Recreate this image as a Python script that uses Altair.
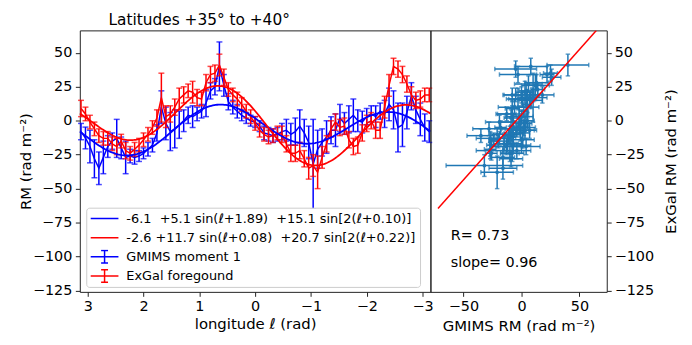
import numpy as np
import pandas as pd
import altair as alt

PI = 3.14159265

# longitude bins (rad)
longitude = [3.12, 3.04, 2.96, 2.88, 2.80, 2.72, 2.64, 2.56, 2.48, 2.40,
             2.32, 2.24, 2.16, 2.08, 2.00, 1.92, 1.84, 1.76, 1.68, 1.60,
             1.52, 1.44, 1.36, 1.28, 1.20, 1.12, 1.04, 0.96, 0.88, 0.80,
             0.72, 0.64, 0.56, 0.48, 0.40, 0.32, 0.24, 0.16, 0.08, 0.00,
             -0.08, -0.16, -0.24, -0.32, -0.40, -0.48, -0.56, -0.64, -0.72, -0.80,
             -0.88, -0.96, -1.04, -1.12, -1.20, -1.28, -1.36, -1.44, -1.52, -1.60,
             -1.68, -1.76, -1.84, -1.92, -2.00, -2.08, -2.16, -2.24, -2.32, -2.40,
             -2.48, -2.56, -2.64, -2.72, -2.80, -2.88, -2.96, -3.04, -3.12]

# GMIMS moment 1 RM and error
gmims = [-8, -12.7, -19, -28, -35, -27, -19, -15, -13, -20,
         -27, -26, -27, -26, -24, -21, -18, -9, 10, -2,
         -8, -6, -3, 0, 4, 3, 5, 7, 13, 22,
         25, 40, 26, 14, 10, 7, 4, 2, 0, -1,
         -4, -9, -10, -11, -10, -8, -7, -10, -8, -4,
         -9, -16, -32, -21, -16, -12, -7, -7, 2, -2,
         1, 4, 0, -1, 3, 5, 3, 7, 5, 12,
         8, -5, -3, 6, 18, 8, 1, -5, -8]
gmims_err = [6, 8, 12, 14, 12, 12, 8, 6, 14, 8,
             12, 5, 5, 4, 4, 5, 5, 6, 12, 12,
             14, 14, 10, 8, 6, 8, 5, 5, 10, 6,
             6, 18, 8, 6, 5, 5, 4, 4, 4, 4,
             4, 5, 5, 5, 5, 6, 8, 8, 10, 12,
             10, 12, 33, 14, 10, 12, 10, 12, 10, 8,
             10, 12, 8, 8, 6, 6, 8, 6, 10, 12,
             14, 18, 16, 12, 10, 10, 12, 10, 8]

# ExGal foreground RM and error
exgal = [9, 5, -1, -6, -11, -13, -13, -17, -19, -15,
         -22, -24, -21, -18, -14, -10, -5, 2, 17, 3,
         5, 10, 16, 19, 22, 21, 17, 16, 28, 34,
         35, 41, 32, 23, 19, 16, 12, 7, 3, -2,
         -7, -10, -12, -11, -9, -10, -17, -24, -24, -22,
         -28, -35, -33, -38, -27, -17, -6, -1, -5, -4,
         -14, -19, -18, -9, -2, 0, -7, -7, 10, 26,
         40, 38, 34, 27, 19, 15, 16, 19, 19]
exgal_err = [6, 5, 5, 5, 5, 5, 5, 5, 6, 5,
             6, 5, 5, 5, 5, 5, 5, 6, 18, 8,
             6, 6, 8, 6, 5, 8, 6, 5, 6, 6,
             6, 8, 6, 5, 5, 5, 5, 5, 5, 5,
             5, 5, 5, 5, 5, 6, 6, 6, 6, 6,
             6, 8, 8, 12, 8, 6, 6, 6, 6, 6,
             6, 6, 6, 6, 6, 6, 6, 6, 8, 8,
             6, 6, 6, 6, 6, 6, 6, 5, 5]

# fit coefficients: a + b sin(l + c) + d sin[2(l + e)]
gmims_fit = [-6.1, 5.1, 1.89, 15.1, 0.10]
exgal_fit = [-2.6, 11.7, 0.08, 20.7, 0.22]

legend_labels = ["-6.1\u00a0 +5.1 sin(\u2113+1.89)\u00a0 +15.1 sin[2(\u2113+0.10)]",
                 "-2.6 +11.7 sin(\u2113+0.08)\u00a0 +20.7 sin[2(\u2113+0.22)]",
                 "GMIMS moment 1",
                 "ExGal foregound"]

title_text = "Latitudes +35\u00b0 to +40\u00b0"
corr_r = 0.73
slope = 0.96
intercept = 4.5
line_x = [-72, 64.5]

BLUE = "#0000ff"
RED = "#ff0000"
C0 = "#1f77b4"
FONT = "DejaVu Sans"

df = pd.DataFrame({"l": longitude, "gm": gmims, "gm_err": gmims_err,
                   "ex": exgal, "ex_err": exgal_err})
df["gm_lo"] = df.gm - df.gm_err
df["gm_hi"] = df.gm + df.gm_err
df["ex_lo"] = df.ex - df.ex_err
df["ex_hi"] = df.ex + df.ex_err


def fit(c, l):
    return c[0] + c[1] * np.sin(l + c[2]) + c[3] * np.sin(2 * (l + c[4]))


fit_l = np.linspace(-PI, PI, 241)
dfit = pd.DataFrame({"l": fit_l, "gfit": fit(gmims_fit, fit_l), "efit": fit(exgal_fit, fit_l)})

YDOM = [-126, 66.5]
yticks = [-125, -100, -75, -50, -25, 0, 25, 50]

xl_axis = alt.Axis(values=[-3, -2, -1, 0, 1, 2, 3], title="longitude  \u2113 (rad)",
                   titleY=32, titleBaseline="middle")
yl_axis = alt.Axis(values=yticks, title="RM (rad m\u207b\u00b2)", titleX=-55,
                   titleBaseline="middle", titleAngle=270)


def XL(f):
    return alt.X(f, type="quantitative",
                 scale=alt.Scale(domain=[-PI, PI], reverse=True, nice=False, zero=False),
                 axis=xl_axis)


def YL(f):
    return alt.Y(f, type="quantitative",
                 scale=alt.Scale(domain=YDOM, nice=False, zero=False), axis=yl_axis)


base = alt.Chart(df)
layers = []
for col, color in [("gm", BLUE), ("ex", RED)]:
    layers.append(base.mark_rule(color=color, strokeWidth=1.5).encode(
        x=XL("l"), y=YL(col + "_lo"), y2=alt.Y2(col + "_hi")))
    for side in ["_lo", "_hi"]:
        layers.append(base.mark_tick(color=color, orient="horizontal", size=6, thickness=1.5).encode(
            x=XL("l"), y=YL(col + side)))
    layers.append(base.mark_line(color=color, strokeWidth=1.5).encode(x=XL("l"), y=YL(col)))

layers.append(alt.Chart(dfit).mark_line(color=BLUE, strokeWidth=1.8).encode(x=XL("l"), y=YL("gfit")))
layers.append(alt.Chart(dfit).mark_line(color=RED, strokeWidth=1.8).encode(x=XL("l"), y=YL("efit")))

path_line = "M-1,0L1,0"
path_err = "M-1,0L1,0M0,-0.45L0,0.45M-0.25,-0.45L0.25,-0.45M-0.25,0.45L0.25,0.45"
leg = alt.Legend(orient="none", legendX=6.5, legendY=179, title=None,
                 symbolSize=784, symbolStrokeWidth=1.5, symbolOpacity=1,
                 clipHeight=15, rowPadding=4.3, labelOffset=7, padding=3.5,
                 labelFontSize=13, labelFont=FONT, labelLimit=500,
                 strokeColor="#cccccc", fillColor="white", cornerRadius=3)
dleg = pd.DataFrame({"series": legend_labels})
layers.append(alt.Chart(dleg).mark_point(filled=False, opacity=0).encode(
    color=alt.Color("series:N", scale=alt.Scale(domain=legend_labels, range=[BLUE, RED, BLUE, RED]), legend=leg),
    shape=alt.Shape("series:N", scale=alt.Scale(domain=legend_labels,
                                                range=[path_line, path_line, path_err, path_err]), legend=leg)))

# chart title as a text mark just above the left panel
layers.append(alt.Chart(pd.DataFrame({"t": [title_text]})).mark_text(
    align="left", baseline="alphabetic", fontSize=15.5, font=FONT, color="black").encode(
    x=alt.value(29), y=alt.value(-5), text="t:N"))

left = alt.layer(*layers).properties(width=354, height=264)

# right panel
xr_axis = alt.Axis(values=[-50, 0, 50], title="GMIMS RM (rad m\u207b\u00b2)", titleY=34,
                   titleBaseline="middle")
yr_axis = alt.Axis(values=yticks, orient="right", title="ExGal RM (rad m\u207b\u00b2)",
                   titleX=64, titleY=132, titleAngle=270, titleBaseline="middle",
                   titleAlign="center", labelPadding=3)


def XR(f):
    return alt.X(f, type="quantitative",
                 scale=alt.Scale(domain=[-78.5, 73.5], nice=False, zero=False), axis=xr_axis)


def YR(f):
    return alt.Y(f, type="quantitative",
                 scale=alt.Scale(domain=YDOM, nice=False, zero=False), axis=yr_axis)


rl = []
rl.append(base.mark_rule(color=C0, strokeWidth=1.5).encode(x=XR("gm_lo"), x2=alt.X2("gm_hi"), y=YR("ex")))
rl.append(base.mark_rule(color=C0, strokeWidth=1.5).encode(x=XR("gm"), y=YR("ex_lo"), y2=alt.Y2("ex_hi")))
for side in ["_lo", "_hi"]:
    rl.append(base.mark_tick(color=C0, orient="vertical", size=4.5, thickness=1.5).encode(
        x=XR("gm" + side), y=YR("ex")))
    rl.append(base.mark_tick(color=C0, orient="horizontal", size=4.5, thickness=1.5).encode(
        x=XR("gm"), y=YR("ex" + side)))
rl.append(base.mark_point(color=C0, filled=True, size=14, opacity=1).encode(x=XR("gm"), y=YR("ex")))

dline = pd.DataFrame({"x": line_x, "y": [slope * v + intercept for v in line_x]})
rl.append(alt.Chart(dline).mark_line(color=RED, strokeWidth=1.5, clip=True).encode(x=XR("x"), y=YR("y")))

dtext = pd.DataFrame({"x": [-61, -61], "y": [-85, -105],
                      "t": [f"R= {corr_r:.2f}", f"slope= {slope:.2f}"]})
rl.append(alt.Chart(dtext).mark_text(align="left", baseline="middle", fontSize=14.5, font=FONT,
                                     color="black").encode(x=XR("x"), y=YR("y"), text="t:N"))

right = alt.layer(*rl).properties(width=178, height=264)

chart = alt.hconcat(left, right, spacing=0, bounds="flush").properties(
    padding={"left": 9.5, "top": 3, "right": 5, "bottom": 5}
).configure_view(stroke="#222222", strokeWidth=1).configure_axis(
    domain=False, grid=False, tickColor="#222222", tickSize=4.5, tickWidth=1,
    labelFont=FONT, labelFontSize=14.5, labelColor="black", labelPadding=3.5,
    titleFont=FONT, titleFontSize=15, titleFontWeight="normal", titleColor="black"
)

chart.save("out.html", embed_options={"renderer": "svg", "actions": False})
